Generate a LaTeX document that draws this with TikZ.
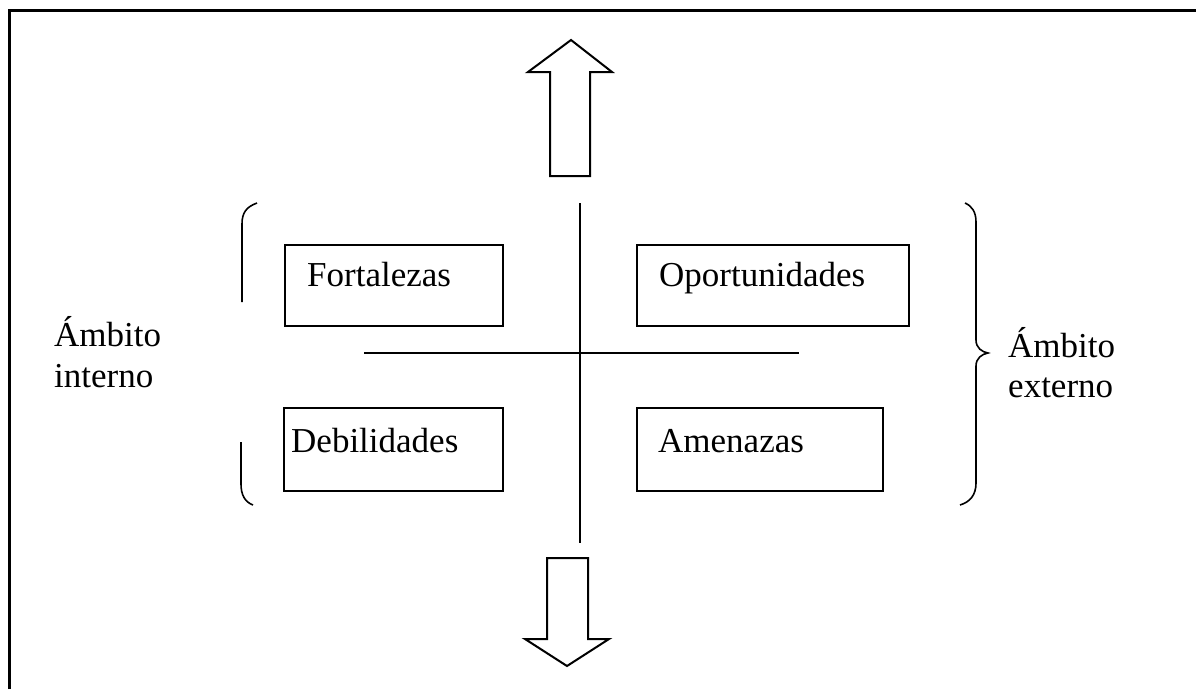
\documentclass[tikz,border=0pt]{standalone}
\usepackage{fontspec}
\setmainfont{Liberation Serif}
\begin{document}
\begin{tikzpicture}[x=1pt,y=-1pt]
\tikzstyle{every node}+=[inner sep=0pt]
\tikzstyle{foda box}=[draw=black,line width=2pt,anchor=north west]
\tikzstyle{foda text}=[anchor=base west,font=\fontsize{35}{41}\selectfont]
\useasboundingbox (0,0) rectangle (1196,689);
% frame
\draw [black,line width=3pt] (9,689) -- (9,10) -- (1196,10);
% boxes
\node [foda box,minimum width=218pt,minimum height=81pt] (fort) at (284,244) {};
\node [foda box,minimum width=272pt,minimum height=81pt] (opor) at (636,244) {};
\node [foda box,minimum width=219pt,minimum height=83pt] (debi) at (283,407) {};
\node [foda box,minimum width=246pt,minimum height=83pt] (amen) at (636,407) {};
\node [foda text] (fortt) at ([xshift=23pt,yshift=-42pt]fort.north west) {Fortalezas};
\node [foda text] (oport) at ([xshift=23pt,yshift=-42pt]opor.north west) {Oportunidades};
\node [foda text] (debit) at ([xshift=8pt,yshift=-45pt]debi.north west) {Debilidades};
\node [foda text] (ament) at ([xshift=22pt,yshift=-45pt]amen.north west) {Amenazas};
% cross
\draw [black,line width=1.8pt] (580,203) -- (580,543);
\draw [black,line width=1.8pt] (364,353) -- (799,353);
% arrows
\draw [black,line width=2pt] (550,176) -- (550,72) -- (528,72) -- (571,40) -- (612,72) -- (590,72) -- (590,176) -- cycle;
\draw [black,line width=2pt] (547,558) -- (547,639) -- (525,639) -- (567,666) -- (609,639) -- (588,639) -- (588,558) -- cycle;
% left brace
\draw [black,line width=1.6pt] (257,203) .. controls (246,207) and (242,213) .. (242,224) -- (242,302);
\draw [black,line width=1.6pt] (241,442) -- (241,484) .. controls (241,495) and (245,502) .. (253,505);
% right brace
\draw [black,line width=1.6pt] (965,203) .. controls (972,206) and (976,212) .. (976,222) -- (976,340)
  .. controls (976,348) and (982,352) .. (988,353) .. controls (982,354) and (976,358) .. (976,366)
  -- (976,483) .. controls (976,495) and (970,502) .. (960,505);
% side labels
\node [foda text] (intA) at (54,346) {Ámbito};
\node [foda text] (intB) at (54,387) {interno};
\node [foda text] (extA) at (1008,357) {Ámbito};
\node [foda text] (extB) at (1008,397) {externo};
\end{tikzpicture}
\end{document}
